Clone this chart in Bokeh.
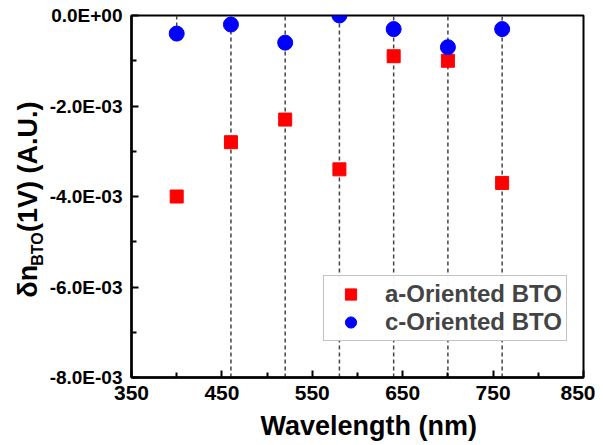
import math
from bokeh.plotting import figure
from bokeh.layouts import row
from bokeh.models import FixedTicker, Legend, LegendItem
from bokeh.core.properties import value
from bokeh.embed import file_html
from bokeh.resources import INLINE

# ---- data ----
wavelength = [400, 460, 520, 580, 640, 700, 760]
a_oriented = [-4.0e-3, -2.8e-3, -2.3e-3, -3.4e-3, -0.9e-3, -1.0e-3, -3.7e-3]
c_oriented = [-0.4e-3, -0.2e-3, -0.6e-3, 0.0, -0.3e-3, -0.7e-3, -0.3e-3]
guide_x = [400, 460, 520, 580, 640, 700, 760]
guide_bottom = [-0.4e-3, -8e-3, -8e-3, -8e-3, -8e-3, -8e-3, -8e-3]
guide_top = [0.0, 0.0, 0.0, 0.0, 0.0, 0.0, 0.0]
x_ticks = [350, 450, 550, 650, 750, 850]
x_minor = [400, 500, 600, 700, 800]
y_ticks = [0.0, -0.002, -0.004, -0.006, -0.008]
y_tick_labels = ["0.0E+00", "-2.0E-03", "-4.0E-03", "-6.0E-03", "-8.0E-03"]
y_minor = [-0.001, -0.003, -0.005, -0.007]
x_title = "Wavelength (nm)"
y_title_parts = ["δn", "BTO", "(1V) (A.U.)"]

FONT = "Liberation Sans"
H = 443
LW = 46                    # width of the y-title strip
FL, FB, FT = 131, 378, 15  # frame left / bottom / top in page px
MW = 595 - LW

p = figure(width=MW, height=H, output_backend="svg", toolbar_location=None,
           x_range=(350, 850), y_range=(-0.008, 0.0),
           min_border_left=FL - LW, min_border_right=12, min_border_top=FT,
           min_border_bottom=H - FB)
p.grid.visible = False
p.outline_line_color = "black"
p.outline_line_width = 2
p.background_fill_color = "white"
p.border_fill_color = "white"

# guide lines
p.segment(x0=guide_x, y0=guide_bottom, x1=guide_x, y1=guide_top,
          line_color="#444444", line_width=1.5, line_dash="4 3")

ra = p.scatter(wavelength, a_oriented, marker="square", size=13, color="#ff0000")
rc = p.scatter(wavelength, c_oriented, marker="circle", size=15, color="#0000ff")

# axes
for ax in (p.xaxis[0], p.yaxis[0]):
    ax.axis_line_width = 2.5
    ax.major_tick_in = 7
    ax.major_tick_out = 0
    ax.minor_tick_in = 5
    ax.minor_tick_out = 0
    ax.major_tick_line_width = 2
    ax.minor_tick_line_width = 2
    ax.major_label_text_font = FONT
    ax.major_label_text_font_style = "bold"
    ax.major_label_text_color = "black"

p.xaxis[0].ticker = FixedTicker(ticks=x_ticks, minor_ticks=x_minor)
p.yaxis[0].ticker = FixedTicker(ticks=y_ticks, minor_ticks=y_minor)
p.yaxis[0].major_label_overrides = dict(zip(y_ticks, y_tick_labels))
p.xaxis[0].major_label_text_font_size = "21px"
p.yaxis[0].major_label_text_font_size = "19px"
p.xaxis[0].major_label_standoff = 8
p.yaxis[0].major_label_standoff = 9

p.xaxis[0].axis_label = "\u00a0\u00a0\u00a0" + x_title
p.xaxis[0].axis_label_text_font = FONT
p.xaxis[0].axis_label_text_font_style = "bold"
p.xaxis[0].axis_label_text_font_size = "27px"
p.xaxis[0].axis_label_text_color = "black"
p.xaxis[0].axis_label_standoff = 8

legend = Legend(items=[LegendItem(label="a-Oriented BTO", renderers=[ra]),
                       LegendItem(label="c-Oriented BTO", renderers=[rc])],
                location=(192, 36))
legend.label_text_font = FONT
legend.label_text_font_style = "bold"
legend.label_text_font_size = "24px"
legend.border_line_color = "#888888"
legend.border_line_width = 1
legend.padding = 4
legend.spacing = 0
legend.glyph_width = 45
legend.glyph_height = 28
legend.label_height = 28
legend.label_standoff = 12
legend.margin = 0
p.add_layout(legend)

# ---- y-axis title strip (rotated text with a subscript) ----
# the row aligns this strip's frame with the main frame (page y FT..FB),
# so use a range that maps data y = H - page_y
t = figure(width=LW, height=H, output_backend="svg", toolbar_location=None,
           x_range=(0, LW), y_range=(H - FB, H - FT), x_axis_type=None, y_axis_type=None,
           min_border_left=0, min_border_right=0, min_border_top=FT,
           min_border_bottom=H - FB)
t.grid.visible = False
t.outline_line_color = None
t.background_fill_color = "white"
t.border_fill_color = "white"

F, f = 27, 16
start_dn, start_sub, start_rest = 298, 266, 232   # page y where each piece starts
main_mid, sub_mid = 27, 37
common = dict(angle=math.pi / 2, text_font=value(FONT), text_font_style="bold",
              text_align="left", text_baseline="middle", text_color="black")
t.text(x=[main_mid], y=[H - start_dn], text=[y_title_parts[0]], text_font_size=f"{F}px", **common)
t.text(x=[sub_mid], y=[H - start_sub], text=[y_title_parts[1]], text_font_size=f"{f}px", **common)
t.text(x=[main_mid], y=[H - start_rest], text=[y_title_parts[2]], text_font_size=f"{F}px", **common)

layout = row(t, p)
open("out.html", "w").write(file_html(layout, INLINE))
